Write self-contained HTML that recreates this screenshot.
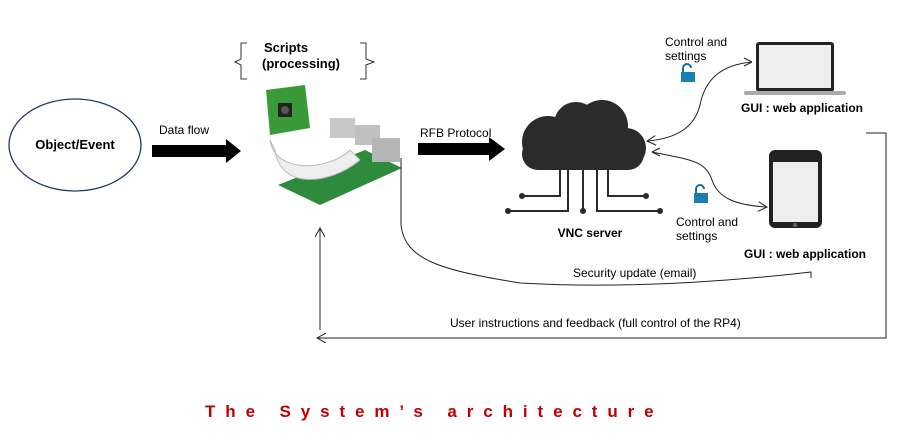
<!DOCTYPE html>
<html><head><style>
body{margin:0;background:#fff;}
svg{display:block;font-family:"Liberation Sans",sans-serif;}
</style></head><body>
<svg width="917" height="441" viewBox="0 0 917 441">
<defs>
<marker id="a" markerWidth="10" markerHeight="10" refX="8" refY="5" orient="auto" markerUnits="userSpaceOnUse"><path d="M0,0 L9,5 L0,10" fill="none" stroke="#222" stroke-width="1"/></marker>
</defs>
<ellipse cx="75" cy="145" rx="66" ry="46" fill="#fff" stroke="#1f3864" stroke-width="1.3"/>
<text x="75" y="149" font-size="13" font-weight="bold" text-anchor="middle">Object/Event</text>
<text x="159" y="134" font-size="12">Data flow</text>
<path d="M152,145 H226 V139 L241,151 L226,163 V157 H152 Z" fill="#000"/>
<path d="M247,43 h-6 v16 l-6,3 l6,3 v14 h6" fill="none" stroke="#333"/>
<path d="M360,43 h6 v16 l8,3 l-8,3 v14 h-6" fill="none" stroke="#333"/>
<text x="264" y="52" font-size="13" font-weight="bold">Scripts</text>
<text x="262" y="68" font-size="13" font-weight="bold">(processing)</text>
<!-- Pi -->
<polygon points="278,185 365,150 402,168 320,205" fill="#2e8b3e"/>
<rect x="330" y="118" width="25" height="20" fill="#c8c8c8"/>
<rect x="355" y="125" width="25" height="20" fill="#c0c0c0"/>
<rect x="372" y="138" width="28" height="24" fill="#b5b5b5"/>
<path d="M270,140 C275,175 330,170 350,150 L360,160 C330,185 280,190 275,150 Z" fill="#eee" stroke="#bbb"/>
<polygon points="266,90 305,85 310,128 270,135" fill="#3a9a3a"/>
<rect x="278" y="103" width="14" height="14" fill="#222"/>
<circle cx="285" cy="110" r="4" fill="#555"/>
<text x="420" y="137" font-size="12">RFB Protocol</text>
<path d="M418,143 H489 V137 L505,149 L489,161 V155 H418 Z" fill="#000"/>
<!-- cloud -->
<g fill="#2b2b2b">
<circle cx="548" cy="142" r="26"/><circle cx="576" cy="124" r="22"/><circle cx="602" cy="126" r="26"/><circle cx="626" cy="148" r="20"/>
<rect x="522" y="138" width="122" height="32" rx="16"/>
</g>
<g fill="none" stroke="#2b2b2b" stroke-width="2">
<path d="M560,168 V196 H522"/><path d="M568,168 V211 H508"/><path d="M583,168 V211"/><path d="M597,168 V211 H660"/><path d="M608,168 V196 H646"/>
</g>
<g fill="#2b2b2b"><circle cx="522" cy="196" r="3"/><circle cx="508" cy="211" r="3"/><circle cx="583" cy="211" r="3"/><circle cx="660" cy="211" r="3"/><circle cx="646" cy="196" r="3"/></g>
<text x="590" y="237" font-size="12" font-weight="bold" text-anchor="middle">VNC server</text>
<!-- laptop -->
<rect x="756" y="42" width="78" height="50" rx="3" fill="#222"/>
<rect x="759" y="45" width="72" height="43" fill="#eee"/>
<rect x="744" y="91" width="102" height="4" rx="2" fill="#aaa"/>
<text x="802" y="112" font-size="12" font-weight="bold" text-anchor="middle">GUI : web application</text>
<!-- phone -->
<rect x="769" y="150" width="53" height="78" rx="6" fill="#222"/>
<rect x="773" y="162" width="45" height="60" fill="#eee"/>
<circle cx="795" cy="225" r="2" fill="#666"/>
<text x="805" y="258" font-size="12" font-weight="bold" text-anchor="middle">GUI : web application</text>
<!-- curves -->
<path d="M752,62 C720,65 705,80 700,105 C695,125 680,138 648,141" fill="none" stroke="#222" marker-end="url(#a)"/>
<path d="M752,62 L744,58 M752,62 L744,66" stroke="#222" fill="none"/>
<path d="M652,152 C690,160 705,160 712,180 C718,198 735,205 766,207" fill="none" stroke="#222" marker-end="url(#a)"/>
<path d="M652,152 L660,148 M652,152 L660,156" stroke="#222"/>
<text x="665" y="46" font-size="12">Control and</text><text x="665" y="60" font-size="12">settings</text>
<text x="676" y="226" font-size="12">Control and</text><text x="676" y="240" font-size="12">settings</text>
<g><path d="M683,72 v-4 a4,4 0 0 1 8,0" fill="none" stroke="#1a6f9a" stroke-width="2"/><rect x="681" y="72" width="14" height="10" fill="#1a7fb0"/></g>
<g><path d="M696,193 v-4 a4,4 0 0 1 8,0" fill="none" stroke="#1a6f9a" stroke-width="2"/><rect x="694" y="193" width="14" height="10" fill="#1a7fb0"/></g>
<!-- security -->
<path d="M401,158 V225 C405,260 440,270 520,283 C640,290 760,278 811,272 V278" fill="none" stroke="#222"/>
<text x="573" y="277" font-size="12">Security  update (email)</text>
<!-- feedback -->
<path d="M866,133 H886 V338 H318" fill="none" stroke="#222" marker-end="url(#a)"/>
<path d="M320,330 V229" fill="none" stroke="#222" marker-end="url(#a)"/>
<text x="450" y="327" font-size="12">User instructions and feedback  (full control of the RP4)</text>
<text x="205" y="417" font-size="17" font-weight="bold" fill="#c00000" letter-spacing="9.9">The System’s architecture</text>
</svg>
</body></html>
